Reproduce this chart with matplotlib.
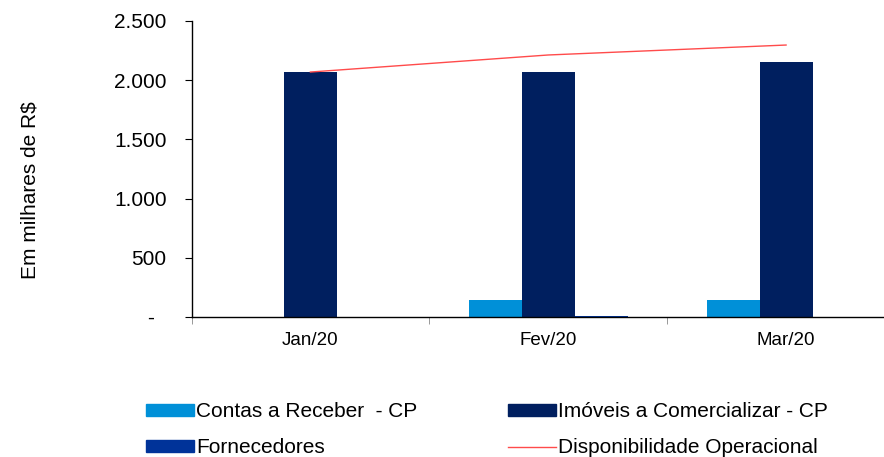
import matplotlib
matplotlib.use("Agg")
import matplotlib.pyplot as plt
import numpy as np
from matplotlib.patches import Patch
from matplotlib.lines import Line2D

categories = ["Jan/20", "Fev/20", "Mar/20"]
contas_receber = [0, 144, 144]
imoveis = [2069, 2069, 2154]
fornecedores = [0, 6, 0]
disponibilidade = [2069, 2213, 2297]
yticks = [0, 500, 1000, 1500, 2000, 2500]
ytick_labels = ["-  ", "500", "1.000", "1.500", "2.000", "2.500"]

c_contas = "#0090D8"
c_imoveis = "#001F5F"
c_forn = "#003399"
c_line = "#FF4B4B"

plt.rcParams['font.family'] = ['Liberation Sans', 'DejaVu Sans']

fig = plt.figure(figsize=(8.84, 4.57), dpi=100)
ax = fig.add_axes([191.5 / 884, 1 - 317 / 457, 1 - 191.5 / 884, (317 - 21) / 457])

x = np.arange(len(categories))
w = 0.223
ax.bar(x - w, contas_receber, w, color=c_contas)
ax.bar(x, imoveis, w, color=c_imoveis)
ax.bar(x + w, fornecedores, w, color=c_forn)
ax.plot(x, disponibilidade, color=c_line, lw=1)

ax.set_xlim(-0.5, 2.5 - 21 / 238)
ax.set_ylim(0, 2500)
ax.set_yticks(yticks)
ax.set_yticklabels(ytick_labels, fontsize=15)
ax.set_xticks(x)
ax.set_xticklabels(categories, fontsize=13.5)
ax.tick_params(axis='x', length=0, pad=11)
ax.set_xticks([-0.5, 0.5, 1.5], minor=True)
ax.tick_params(axis='x', which='minor', length=5, color='#888888', direction='out')
ax.tick_params(axis='y', length=5, direction='out', pad=13)
for s in ['top', 'right']:
    ax.spines[s].set_visible(False)
ax.spines['left'].set_linewidth(1)
ax.spines['bottom'].set_linewidth(1)

fig.text(30 / 884, 1 - 190 / 457, "Em milhares de R$", rotation=90,
         ha='center', va='center', fontsize=15)

handles = [Patch(color=c_contas), Patch(color=c_forn),
           Patch(color=c_imoveis), Line2D([0], [0], color=c_line, lw=1)]
labels = ["Contas a Receber  - CP", "Fornecedores",
          "Imóveis a Comercializar - CP", "Disponibilidade Operacional"]
leg = fig.legend(handles, labels, ncol=2, loc='upper left',
                 bbox_to_anchor=(146 / 884, 1 - 402 / 457), frameon=False,
                 fontsize=15, handlelength=2.3, handleheight=0.5,
                 handletextpad=0.1, columnspacing=4.35, labelspacing=0.83,
                 borderaxespad=0, borderpad=0)

fig.savefig("out.png", dpi=100)
